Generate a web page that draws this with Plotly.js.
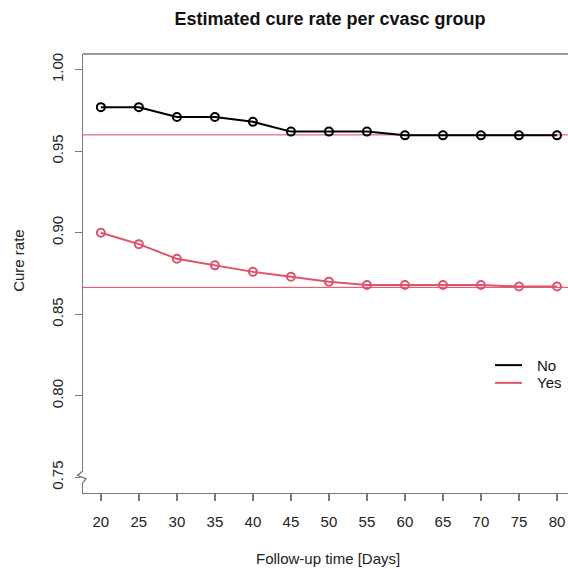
<!DOCTYPE html>
<html>
<head>
<meta charset="utf-8">
<script src="https://cdn.plot.ly/plotly-3.0.1.min.js"></script>
<style>html,body{margin:0;padding:0;background:#fff;}#chart{width:568px;height:569px;}</style>
</head>
<body>
<div id="chart"></div>
<script>
var days = [20, 25, 30, 35, 40, 45, 50, 55, 60, 65, 70, 75, 80];
var noValues = [0.977, 0.977, 0.971, 0.971, 0.968, 0.962, 0.962, 0.962, 0.9597, 0.9597, 0.9597, 0.9597, 0.9597];
var yesValues = [0.900, 0.893, 0.884, 0.880, 0.876, 0.873, 0.870, 0.868, 0.868, 0.868, 0.868, 0.867, 0.867];
var groupNames = ["No", "Yes"];
var cureLevels = [0.960, 0.8665];
var yTicks = [0.75, 0.80, 0.85, 0.90, 0.95, 1.00];

var FONT = "Liberation Sans, Arial, Helvetica, sans-serif";
var BLACK = "#000000";
var PINK = "#DF536B";
var LINE_RED = "#E0465A";
var AXIS = "#7a7a7a";
var groupColors = [BLACK, PINK];

var traces = [
  {x: days, y: noValues, mode: "lines+markers", showlegend: false, name: groupNames[0],
   line: {color: BLACK, width: 2}, marker: {symbol: "circle-open", size: 8, color: BLACK, line: {width: 2, color: BLACK}}, cliponaxis: false},
  {x: days, y: yesValues, mode: "lines+markers", showlegend: false, name: groupNames[1],
   line: {color: PINK, width: 2}, marker: {symbol: "circle-open", size: 8, color: PINK, line: {width: 2, color: PINK}}, cliponaxis: false}
];

var shapes = [];
cureLevels.forEach(function (v) {
  shapes.push({type: "line", xref: "paper", x0: 0, x1: 1, yref: "y", y0: v, y1: v,
               line: {color: LINE_RED, width: 1}, layer: "below"});
});
// top frame line
shapes.push({type: "line", xref: "paper", yref: "paper", x0: 0, x1: 1, y0: 1, y1: 1, line: {color: AXIS, width: 1.3}, layer: "above"});
// axis break (zigzag) near 0.75
shapes.push({type: "rect", xref: "paper", yref: "y", x0: -0.005, x1: 0.005, y0: 0.7469, y1: 0.7538,
             fillcolor: "#ffffff", line: {width: 0}, layer: "above"});
shapes.push({type: "path", xref: "paper", yref: "y",
             path: "M0,0.7540 L-0.0113,0.7512 L0.0062,0.7491 L0,0.7468",
             line: {color: AXIS, width: 1.3}, layer: "above"});

// legend (drawn manually to match spacing)
var legendRowsY = [0.2913, 0.2509];
var annotations = [
  {text: "Follow-up time [Days]", xref: "paper", yref: "paper", x: 0.505, y: -0.149, xanchor: "center", yanchor: "middle",
   showarrow: false, font: {size: 15, color: "#222"}},
  {text: "Cure rate", xref: "paper", yref: "paper", x: -0.132, y: 0.531, xanchor: "center", yanchor: "middle",
   textangle: -90, showarrow: false, font: {size: 15, color: "#222"}}
];
groupNames.forEach(function (g, i) {
  shapes.push({type: "line", xref: "paper", yref: "paper", x0: 0.8495, x1: 0.9052, y0: legendRowsY[i], y1: legendRowsY[i],
               line: {color: groupColors[i], width: 2}, layer: "above"});
  annotations.push({text: g, xref: "paper", yref: "paper", x: 0.9361, y: legendRowsY[i], xanchor: "left", yanchor: "middle",
                    showarrow: false, font: {size: 15, color: "#111"}, xshift: -2});
});

var layout = {
  width: 568, height: 569,
  margin: {l: 83, r: 0, t: 54, b: 76, pad: 0},
  paper_bgcolor: "#ffffff", plot_bgcolor: "#ffffff",
  font: {family: FONT, size: 15, color: "#222222"},
  title: {text: "Estimated cure rate per cvasc group", font: {family: FONT, size: 18, weight: "bold", color: "#111111"},
          xref: "container", yref: "container", x: 330 / 568, xanchor: "center", y: 1 - 19 / 569, yanchor: "middle"},
  xaxis: {range: [17.65, 81.45], tickmode: "array", tickvals: days, ticktext: days.map(String),
          showgrid: false, zeroline: false, showline: true, linecolor: AXIS, linewidth: 1.3,
          ticks: "outside", ticklen: 7, tickwidth: 1.3, tickcolor: AXIS, ticklabelstandoff: 8, tickfont: {size: 15, color: "#222"}},
  yaxis: {range: [0.7404, 1.0096], tickmode: "array", tickvals: yTicks, ticktext: yTicks.map(function (v) { return v.toFixed(2); }),
          tickangle: -90, showgrid: false, zeroline: false, showline: true, linecolor: AXIS, linewidth: 1.3,
          ticks: "outside", ticklen: 7, tickwidth: 1.3, tickcolor: AXIS, ticklabelstandoff: 6, tickfont: {size: 15, color: "#222"}},
  showlegend: false,
  shapes: shapes,
  annotations: annotations
};

Plotly.newPlot("chart", traces, layout, {displayModeBar: false, staticPlot: true});
</script>
</body>
</html>
